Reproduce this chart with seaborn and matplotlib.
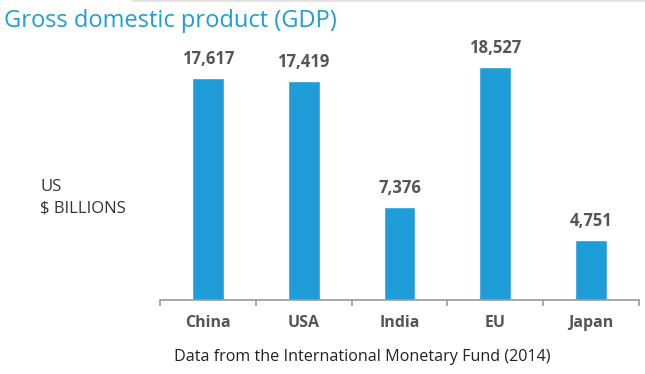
import numpy as np
import matplotlib
matplotlib.use('Agg')
import matplotlib.pyplot as plt
import seaborn as sns
import pandas as pd

countries = ['China', 'USA', 'India', 'EU', 'Japan']
gdp = [17617, 17419, 7376, 18527, 4751]
title = 'Gross domestic product (GDP)'
unit_label = 'US\n$ BILLIONS'
source = 'Data from the International Monetary Fund (2014)'

sns.set_style('white')
plt.rcParams['font.family'] = ['Open Sans', 'DejaVu Sans']

blue = '#1e9dd8'
grey_text = '#555555'

df = pd.DataFrame({'country': countries, 'gdp': gdp})

fig = plt.figure(figsize=(6.45, 3.74), dpi=100)
ax = fig.add_axes([160 / 645, 74 / 374, 479 / 645, 260 / 374])

sns.barplot(data=df, x='country', y='gdp', color=blue, width=1 / 3,
            saturation=1, ax=ax)

ax.set_xlim(-0.5, len(countries) - 0.5)
ax.set_ylim(0, 260 / 0.0126)

for i, v in enumerate(gdp):
    ax.annotate(f'{v:,}', (i, v), xytext=(0, 7), textcoords='offset points',
                ha='center', va='bottom', fontsize=12, fontweight='bold',
                color=grey_text)

for s in ['top', 'right', 'left']:
    ax.spines[s].set_visible(False)
ax.spines['bottom'].set_color('#999999')
ax.spines['bottom'].set_linewidth(1.2)

ax.set_yticks([])
ax.set_xticks(range(len(countries)))
ax.set_xticklabels(countries, fontsize=11.5, fontweight='bold', color=grey_text)
ax.set_xticks(np.arange(-0.5, len(countries)), minor=True)
ax.tick_params(axis='x', which='major', length=0, pad=11)
ax.tick_params(axis='x', which='minor', length=4, width=1.2, color='#999999',
               direction='out', bottom=True)
ax.set_xlabel('')
ax.set_ylabel('')

fig.text(4 / 645, 1 - 27 / 374, title, fontsize=17, color=blue,
         ha='left', va='baseline')
fig.text(40 / 645, 1 - 198 / 374, unit_label, fontsize=12, color='#333333',
         ha='left', va='center', linespacing=1.45)
fig.text(362 / 645, 1 - 357 / 374, source, fontsize=11.6, color='#222222',
         ha='center', va='center')
fig.add_artist(plt.Line2D([133 / 645, 1], [1 - 1 / 374, 1 - 1 / 374],
                          color='#dddddd', linewidth=1.2))

fig.savefig('out.png', dpi=100)
